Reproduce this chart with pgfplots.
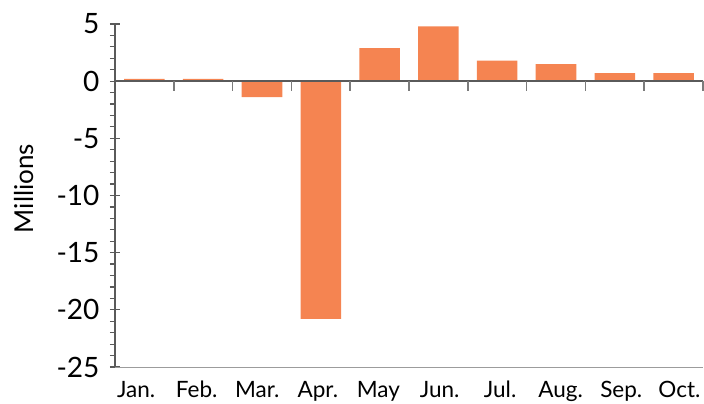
\documentclass[border=0pt]{standalone}
\usepackage{pgfplots}
\pgfplotsset{compat=1.18}
\usepackage{fontspec}
\setmainfont{Lato}
\definecolor{barc}{HTML}{F58451}
\definecolor{axc}{HTML}{5A5A5A}
\begin{document}
\fontsize{22pt}{26pt}\selectfont
\begin{tikzpicture}
\begin{axis}[
  scale only axis, width=588pt, height=343pt,
  xmin=-0.5, xmax=9.5, ymin=-25, ymax=5,
  axis x line*=bottom, axis y line*=left,
  x axis line style={draw=axc!60, line width=1pt, -},
  y axis line style={draw=axc, line width=1.5pt, -},
  xtick={-0.14,0.89,1.92,2.95,3.98,5.02,6.05,7.08,8.11,9.1},
  xticklabels={Jan.,Feb.,Mar.,Apr.,May,Jun.,Jul.,Aug.,Sep.,Oct.},
  x tick style={draw=none},
  xticklabel style={yshift=4pt, text height=17pt, text depth=5pt, font=\fontsize{22.5pt}{26pt}\selectfont},
  ytick={-25,-20,...,5},
  minor y tick num=4,
  tick align=center,
  major tick length=10pt, minor tick length=5pt,
  y tick style={draw=axc, line width=1.2pt},
  minor y tick style={draw=axc, line width=1.2pt, xshift=-2.5pt},
  yticklabel style={xshift=-3pt, font=\fontsize{28pt}{32pt}\selectfont},
  /pgf/number format/assume math mode=true,
  ylabel={Millions},
  ylabel style={font=\fontsize{26pt}{30pt}\selectfont, at={(ticklabel cs:0.5)}, xshift=7pt, yshift=8pt},
  ybar, bar width=0.69, bar shift=0pt,
  clip=false,
]
\addplot[fill=barc, draw=none] coordinates {
 (0,0.2) (1,0.2) (2,-1.4) (3,-20.8) (4,2.9) (5,4.8) (6,1.8) (7,1.5) (8,0.7) (9,0.7)};
\draw[axc, line width=2.5pt] (axis cs:-0.5,0) -- (axis cs:9.5,0);
\pgfplotsinvokeforeach{0.5,1.5,2.5,3.5,4.5,5.5,6.5,7.5,8.5,9.5}{
  \draw[axc!80, line width=1.5pt] (axis cs:#1,0) -- ++(0pt,-10pt);
}
\end{axis}
\pgfresetboundingbox
\path[use as bounding box] (current axis.south west) ++(-115pt,-37pt) rectangle ([xshift=1pt,yshift=24pt]current axis.north east);
\end{tikzpicture}
\end{document}
